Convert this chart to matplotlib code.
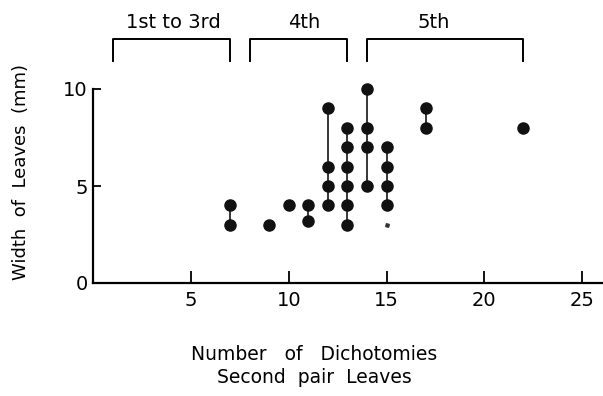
import numpy as np
import matplotlib.pyplot as plt

plt.rcParams['font.family'] = ['DejaVu Sans']

# number of dichotomies -> leaf widths (mm) observed
x_vals = [7, 9, 10, 11, 12, 13, 14, 15, 17, 22]
widths = [
    [3, 4],
    [3],
    [4],
    [3.2, 4],
    [4, 5, 6, 9],
    [3, 4, 5, 6, 7, 8],
    [5, 7, 8, 10],
    [4, 5, 6, 7],
    [8, 9],
    [8],
]
# small smudge mark
smudge_x = [15]
smudge_y = [3]

# leaf pair groups shown as brackets above the plot
groups = ['1st to 3rd', '4th', '5th']
group_start = [1, 8, 14]
group_end = [7, 13, 22]
group_label_x = [4.1, 10.8, 17.4]

fig = plt.figure(figsize=(6.03, 3.96), dpi=100)
ax = fig.add_axes([93.25 / 603, 1 - 283 / 396, 509.75 / 603, 194 / 396])

for xv, ws in zip(x_vals, widths):
    if len(ws) > 1:
        ax.plot([xv, xv], [min(ws), max(ws)], color='black', lw=1.1, zorder=2)
    ax.plot([xv] * len(ws), ws, 'o', color='#111111', ms=8, zorder=3, clip_on=False)
ax.plot(smudge_x, smudge_y, marker=(4, 0, 30), color='#333333', ms=3, ls='none')

ax.set_xlim(0, 26.07)
ax.set_ylim(0, 10)
ax.set_xticks([5, 10, 15, 20, 25])
ax.set_yticks([0, 5, 10])
ax.tick_params(direction='in', length=9, width=1.3, labelsize=14, pad=6)
ax.tick_params(axis='y', length=6, pad=4)
for s in ['top', 'right']:
    ax.spines[s].set_visible(False)
for s in ['left', 'bottom']:
    ax.spines[s].set_linewidth(1.6)

ax.set_ylabel('Width  of  Leaves  (mm)', fontsize=13)
ax.yaxis.set_label_coords(-0.125, 0.572)
fig.text(314 / 603, 1 - 366 / 396, 'Number   of   Dichotomies\nSecond  pair  Leaves',
         ha='center', va='center', fontsize=13.5, linespacing=1.3)

# brackets
y_top, y_bot = 12.58, 11.44
for name, a, b, lx in zip(groups, group_start, group_end, group_label_x):
    ax.plot([a, a, b, b], [y_bot, y_top, y_top, y_bot], color='black', lw=1.4,
            clip_on=False)
    ax.text(lx, 13.45, name, ha='center', va='center', fontsize=14, clip_on=False)

fig.savefig('out.png', dpi=100)
